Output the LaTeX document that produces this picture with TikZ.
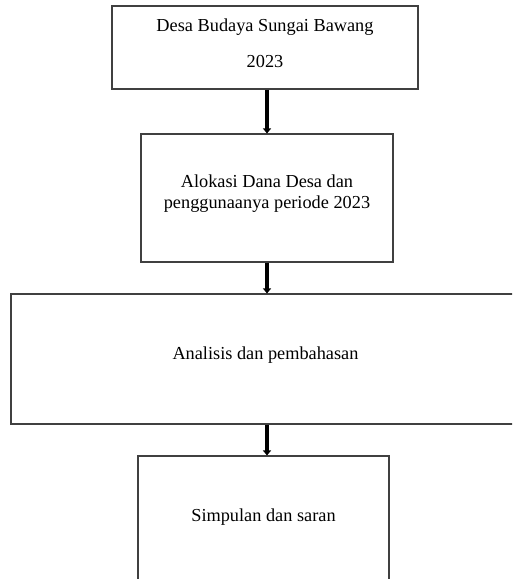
\documentclass[tikz,border=0pt]{standalone}
\usepackage{fontspec}
\setmainfont{Liberation Serif}
\usetikzlibrary{arrows.meta}
\begin{document}
\begin{tikzpicture}[x=1pt,y=-1pt,
  boxstyle/.style={draw=black!75, line width=1.1pt, rectangle, inner sep=0pt,
    align=center, font=\fontsize{18.3}{21}\selectfont},
  flowarrow/.style={line width=3.8pt, -{Triangle[width=8pt,length=5pt]}}]
\useasboundingbox (0,0) rectangle (512,579);
\clip (0,0) rectangle (512,579);
\node[boxstyle, minimum width=306pt, minimum height=83pt, text depth=8pt] (b1) at (265,47.5)
  {Desa Budaya Sungai Bawang\\[15pt]2023};
\node[boxstyle, minimum width=252pt, minimum height=128pt, text depth=12pt] (b2) at (267,198)
  {Alokasi Dana Desa dan\\penggunaanya periode 2023};
\node[boxstyle, minimum width=509pt, minimum height=130pt, text depth=12pt] (b3) at (265.5,359)
  {Analisis dan pembahasan};
\node[boxstyle, minimum width=251pt, minimum height=130pt, text depth=12pt] (b4) at (263.5,521)
  {Simpulan dan saran};
\coordinate (ax) at (267,0);
\draw[flowarrow] (b1.south -| ax) -- (b2.north -| ax);
\draw[flowarrow] (b2.south -| ax) -- (b3.north -| ax);
\draw[flowarrow] (b3.south -| ax) -- (b4.north -| ax);
\end{tikzpicture}
\end{document}
